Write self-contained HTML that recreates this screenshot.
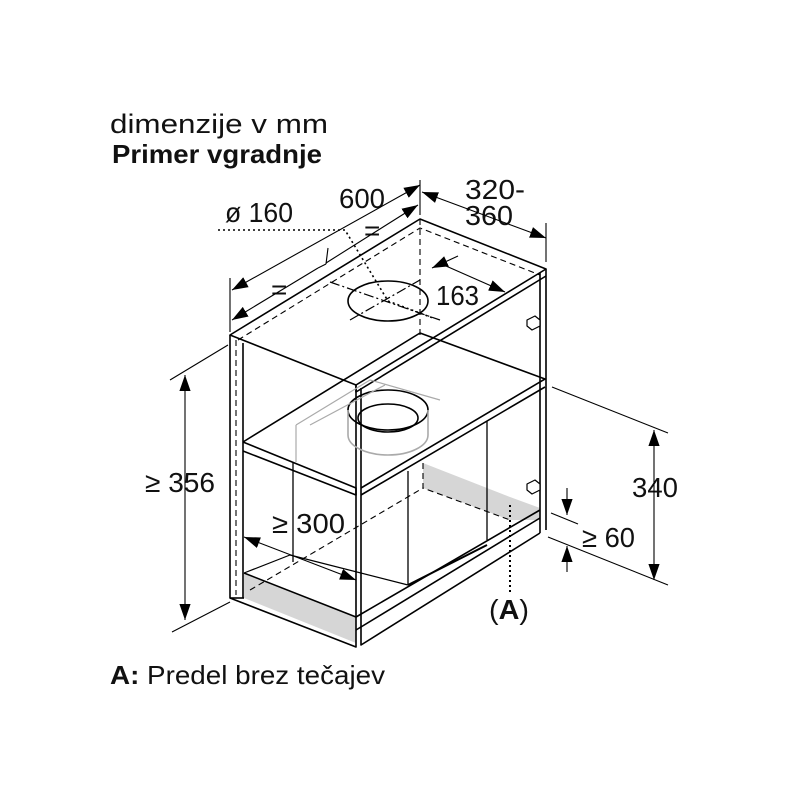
<!DOCTYPE html>
<html><head><meta charset="utf-8"><style>
html,body{margin:0;padding:0;background:#fff}
svg{display:block}
text{font-family:"Liberation Sans",sans-serif;fill:#111}
</style></head><body>
<svg width="800" height="800" viewBox="0 0 800 800" xmlns="http://www.w3.org/2000/svg">
<defs>
<marker id="a" viewBox="0 0 10 10" refX="10" refY="5" markerWidth="16" markerHeight="16" markerUnits="userSpaceOnUse" orient="auto-start-reverse"><path d="M0,1.5 L10,5 L0,8.5z" fill="#000"/></marker>
</defs>
<g font-size="28">
<text x="110" y="133" font-size="27" textLength="218" lengthAdjust="spacingAndGlyphs">dimenzije v mm</text>
<text x="112" y="163" font-size="26" font-weight="bold" textLength="210" lengthAdjust="spacingAndGlyphs">Primer vgradnje</text>
<text x="225" y="222" textLength="68" lengthAdjust="spacingAndGlyphs">ø 160</text>
<text x="339" y="208" textLength="46" lengthAdjust="spacingAndGlyphs">600</text>
<text x="465" y="199" textLength="60" lengthAdjust="spacingAndGlyphs">320-</text>
<text x="465" y="225" textLength="48" lengthAdjust="spacingAndGlyphs">360</text>
<text x="364" y="240">=</text>
<text x="271" y="299">=</text>
<text x="436" y="305" textLength="43" lengthAdjust="spacingAndGlyphs">163</text>
<text x="145" y="492" textLength="70" lengthAdjust="spacingAndGlyphs">≥ 356</text>
<text x="272" y="533" textLength="73" lengthAdjust="spacingAndGlyphs">≥ 300</text>
<text x="632" y="497" textLength="46" lengthAdjust="spacingAndGlyphs">340</text>
<text x="582" y="547" textLength="53" lengthAdjust="spacingAndGlyphs">≥ 60</text>
<text x="489" y="619" textLength="40" lengthAdjust="spacingAndGlyphs">(<tspan font-weight="bold">A</tspan>)</text>
<text x="110" y="684" font-size="26" textLength="275" lengthAdjust="spacingAndGlyphs"><tspan font-weight="bold">A:</tspan> Predel brez tečajev</text>
</g>

<g fill="none" stroke="#000" stroke-width="1.6" stroke-linejoin="round">
<path d="M244,573 L356,617 L356,643 L244,598z" fill="#d6d6d6" stroke="none"/>
<path d="M423,463 L510,497 L540,508 L540,520 L510,520 L423,488z" fill="#d6d6d6" stroke="none"/>
<path d="M244,573 L356,617 L540,510" />
<path d="M244,573 L290,555" stroke-width="1.2"/>
<path d="M230,335 L420,219 L546,269 L356,385 z"/>
<path d="M356,385 L356,392 L546,276"/>
<path d="M230,335 L230,598 L356,647 L356,385"/>
<path d="M243,343 L243,598"/>
<path d="M230,598 L244,598"/>
<path d="M361,388 L361,645 L540,533"/>
<path d="M356,630 L540,518"/>
<path d="M540,273 L540,533 M546,269 L546,530"/>
<path d="M243,442 L420,333 L545,379 L361,488 M243,442 L356,488 L356,495 L243,451 M361,495 L545,387"/>
<path d="M293,462 L293,562 M408,471 L408,585 M487,421 L487,540" stroke-width="1.3"/>
<path d="M408,585 L487,545" stroke-width="2"/>
<path d="M290,555 L408,585" stroke-width="1.2"/>
<g stroke-dasharray="6,4" stroke-width="1.1">
<path d="M236,340 L236,595 M420,219 L420,335 M238,340 L420,228 L540,275"/>
<path d="M423,463 L423,488 L510,520 M250,590 L423,488"/>
</g>
<ellipse cx="388" cy="301" rx="40" ry="20"/>
<ellipse cx="388" cy="410" rx="40" ry="20"/>
<ellipse cx="388" cy="418" rx="30" ry="14"/>
<path d="M348,410 L348,435 M428,410 L428,435" stroke="#aaa"/>
<path d="M348,435 A40,20 0 0 0 428,435" stroke="#aaa"/>
<path d="M296,425 L296,462 M296,425 L370,380 L440,400 M310,425 L385,385" stroke="#aaa" stroke-width="1.2"/>
<path d="M218,230 L345,230 L388,301 L433,318" stroke-dasharray="2,3"/>
<path d="M330,282 L440,320 M350,320 L420,280" stroke-dasharray="10,3,2,3" stroke-width="1.2"/>
<path d="M527,320 l8,-4 l5,4 l0,6 l-8,4 l-5,-4z M527,484 l8,-4 l5,4 l0,6 l-8,4 l-5,-4z" fill="#fff" stroke-width="1.2"/>
<path d="M510,505 L510,592" stroke-dasharray="2,3" stroke-width="2"/>
</g>

<g fill="none" stroke="#000" stroke-width="1.1">
<path d="M230,332 L230,278 M420,215 L420,180"/>
<path d="M232,290 L420,185" marker-start="url(#a)" marker-end="url(#a)"/>
<path d="M232,320 L318,268" marker-start="url(#a)"/>
<path d="M326,264 L328,248"/>
<path d="M326,263 L418,205" marker-end="url(#a)"/>
<path d="M318,268 L326,264"/>
<path d="M422,192 L546,238" marker-start="url(#a)" marker-end="url(#a)"/>
<path d="M546,223 L546,262"/>
<path d="M432,268 L458,256 M446,266 L505,292" marker-start="url(#a)" marker-end="url(#a)"/>
<path d="M170,380 L228,345 M172,632 L230,602"/>
<path d="M185,375 L185,620" marker-start="url(#a)" marker-end="url(#a)"/>
<path d="M244,537 L356,580" marker-start="url(#a)" marker-end="url(#a)"/>
<path d="M552,387 L668,433 M548,537 L668,585"/>
<path d="M654,430 L654,580" marker-start="url(#a)" marker-end="url(#a)"/>
<path d="M551,513 L578,524"/>
<path d="M567,488 L567,515" marker-end="url(#a)"/>
<path d="M567,572 L567,546" marker-end="url(#a)"/>
</g>
</svg>
</body></html>
